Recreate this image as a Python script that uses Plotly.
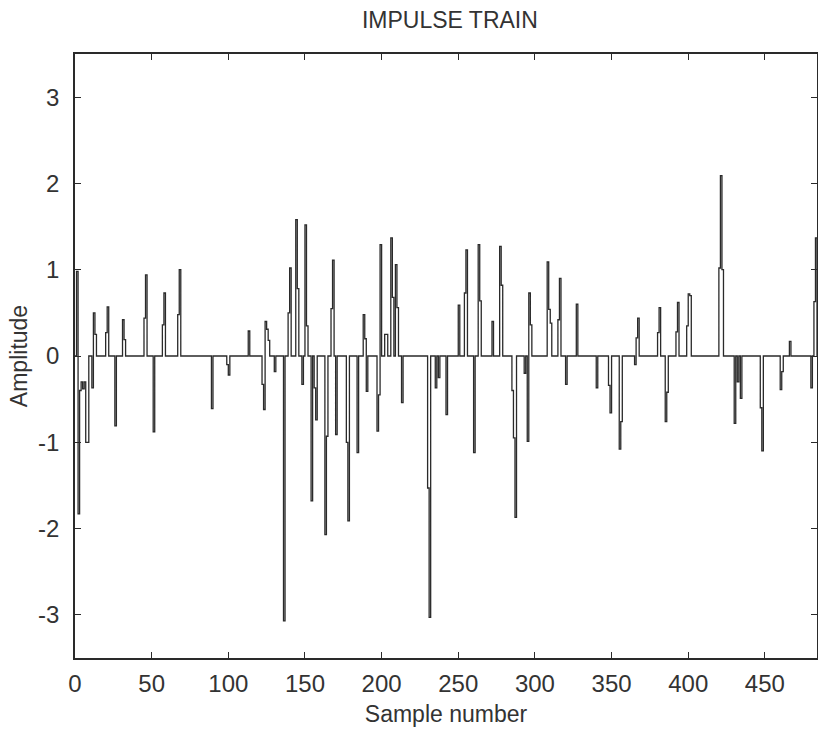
import numpy as np
import plotly.graph_objects as go

# Sample positions of the non-zero samples of the impulse train and their amplitudes
impulse_index = [1, 2, 3, 4, 5, 6, 7, 8, 11, 12, 13, 20, 21, 26, 31, 32, 45, 46, 51, 57, 58,
                 67, 68, 89, 99, 100, 113, 122, 123, 124, 125, 126, 130, 136, 139, 140, 144,
                 145, 148, 150, 151, 154, 156, 157, 163, 164, 167, 168, 170, 177, 178, 184,
                 188, 189, 190, 197, 198, 199, 202, 203, 206, 207, 209, 210, 213, 230, 231,
                 235, 237, 242, 250, 254, 255, 260, 263, 264, 272, 277, 278, 285, 286, 287,
                 293, 295, 296, 297, 308, 309, 310, 315, 316, 320, 327, 340, 348, 349, 355,
                 356, 365, 366, 367, 380, 381, 385, 386, 392, 393, 399, 400, 401, 420, 421,
                 422, 430, 432, 434, 447, 448, 460, 461, 466, 480, 482, 483]
impulse_value = [0.98, -1.83, -0.40, -0.30, -0.38, -0.30, -1.00, -1.00, -0.37, 0.50, 0.25,
                 0.27, 0.57, -0.81, 0.42, 0.19, 0.44, 0.94, -0.88, 0.36, 0.73,
                 0.48, 1.00, -0.61, -0.10, -0.22, 0.29, -0.33, -0.62, 0.40, 0.31, 0.18,
                 -0.18, -3.07, 0.50, 1.02, 1.58,
                 0.78, -0.33, 1.52, 0.35, -1.68, -0.37, -0.74, -2.07, -0.93, 0.55, 1.11,
                 -0.91, -1.00, -1.91, -1.12,
                 0.48, 0.20, -0.41, -0.87, -0.45, 1.29, 0.25, 0.25, 1.37, 0.68, 1.06, 0.56,
                 -0.54, -1.53, -3.03,
                 -0.37, -0.25, -0.68, 0.59, 0.73, 1.23, -1.12, 1.29, 0.64, 0.40, 1.27, 0.82,
                 -0.40, -0.95, -1.87,
                 -0.20, -0.99, 0.73, 0.36, 1.09, 0.54, 0.38, 0.42, 0.90, -0.33, 0.60, -0.37,
                 -0.34, -0.66, -1.08,
                 -0.76, -0.10, 0.21, 0.44, 0.27, 0.56, -0.76, -0.42, 0.28, 0.62, 0.35, 0.72,
                 0.70, 1.02, 2.09,
                 1.00, -0.78, -0.30, -0.49, -0.60, -1.10, -0.39, -0.18, 0.17, -0.37, 0.63, 1.37]
n_samples = 485

x_tick_values = [0, 50, 100, 150, 200, 250, 300, 350, 400, 450]
x_tick_labels = ["0", "50", "100", "150", "200", "250", "300", "350", "400", "450"]
y_tick_values = [-3, -2, -1, 0, 1, 2, 3]
y_tick_labels = ["-3", "-2", "-1", "0", "1", "2", "3"]

samples = np.arange(n_samples)
signal = np.zeros(n_samples)
signal[impulse_index] = impulse_value

FONT = "Liberation Sans Narrow, Liberation Sans, Arial, sans-serif"
INK = "#2a2a2a"
TXT = "#333333"

fig = go.Figure()
fig.add_trace(go.Scatter(x=samples, y=signal, mode="lines", line_shape="hv",
                         line=dict(color=INK, width=1.3), showlegend=False))

axis_common = dict(showgrid=False, zeroline=False, showline=True, linecolor=INK,
                   linewidth=1.5, mirror="ticks", ticks="inside", ticklen=6,
                   tickcolor=INK, tickwidth=1.3, automargin=False,
                   tickfont=dict(family=FONT, size=24, color=TXT))

fig.update_xaxes(range=[0, 484], tickvals=x_tick_values, ticktext=x_tick_labels,
                 ticklabelstandoff=3,
                 title=dict(text="Sample number", font=dict(family=FONT, size=23, color=TXT),
                            standoff=10),
                 **axis_common)
fig.update_yaxes(range=[-3.5, 3.5], tickvals=y_tick_values, ticktext=y_tick_labels,
                 ticklabelstandoff=9,
                 title=dict(text="Amplitude", font=dict(family=FONT, size=23, color=TXT),
                            standoff=4),
                 **axis_common)

fig.update_layout(
    width=818, height=738,
    margin=dict(l=75, r=1, t=54, b=80),
    paper_bgcolor="white", plot_bgcolor="white",
    title=dict(text="IMPULSE TRAIN", x=0.55, xanchor="center", y=1 - 20 / 738,
               yanchor="middle", font=dict(family=FONT, size=23, color=TXT)),
)

post = ("document.body.style.margin='0';document.body.style.padding='0';"
        "document.body.style.overflow='hidden';"
        "var gd=document.getElementById('{plot_id}');"
        "Plotly.relayout(gd,{width:818,height:738});")

fig.write_html("out.html", config={"responsive": False, "displayModeBar": False},
               post_script=post)
